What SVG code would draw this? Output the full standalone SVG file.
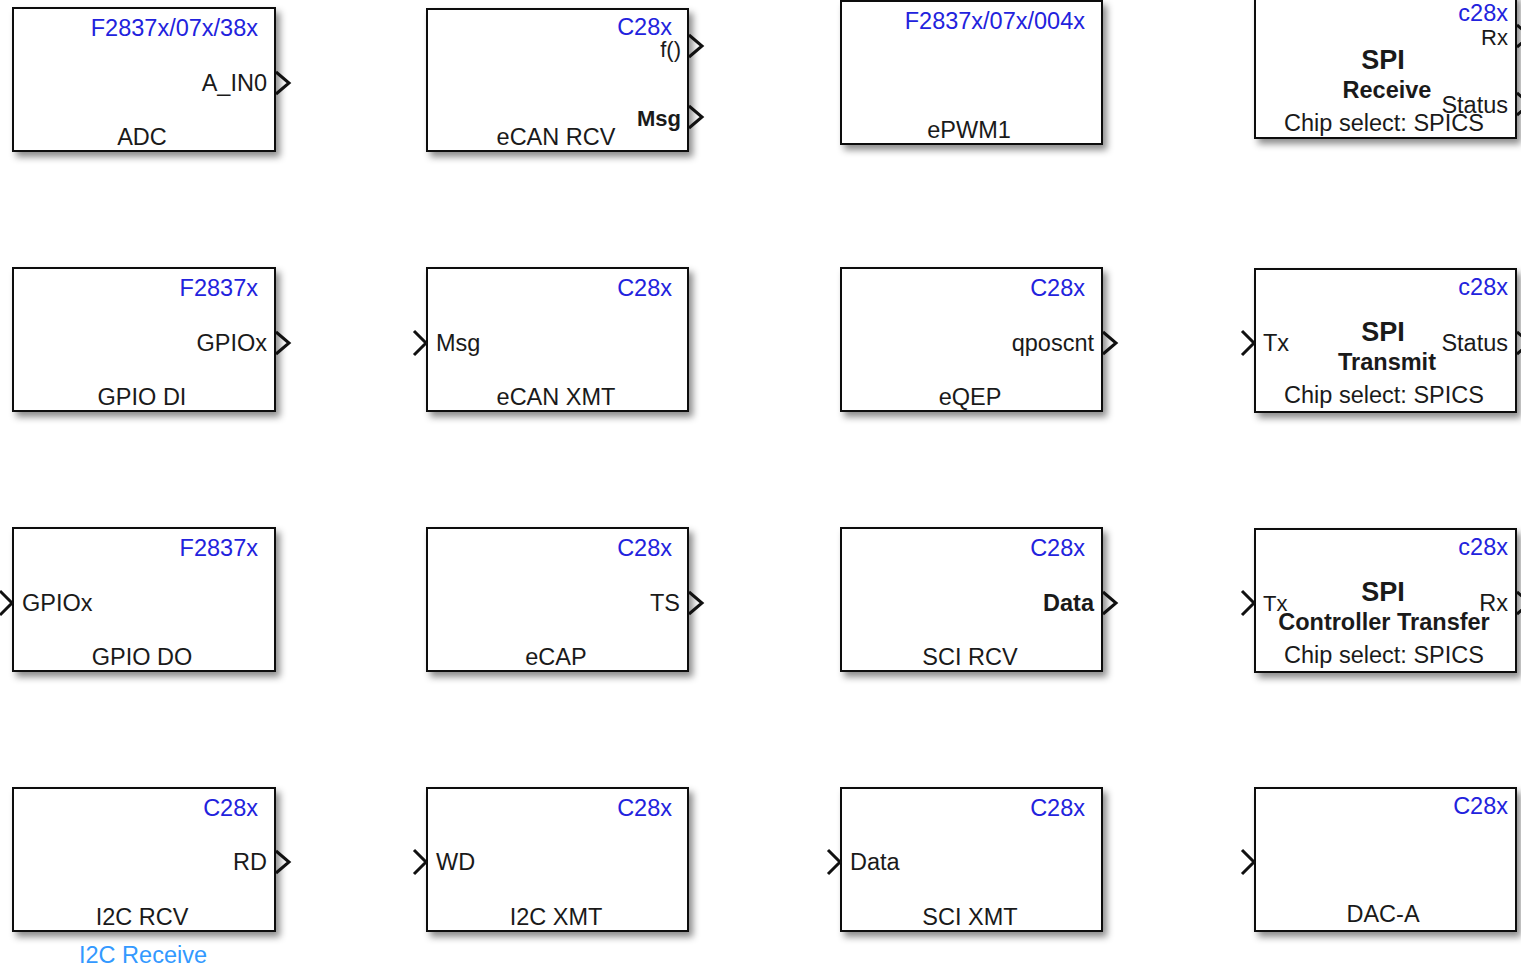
<svg xmlns="http://www.w3.org/2000/svg" width="1521" height="965" viewBox="0 0 1521 965">
<style>
text{font-family:"Liberation Sans",Arial,sans-serif;font-size:23.5px;fill:#1a1a1a}
.blk{fill:#fff;stroke:#111;stroke-width:2;filter:url(#sh)}
.tag{fill:#2222dd;text-anchor:end}
.r{text-anchor:end}
.m{text-anchor:middle}
.b{font-weight:bold}
.big{font-weight:bold;font-size:27px}
.port{fill:none;stroke:#111;stroke-width:3;stroke-linejoin:miter}
.note{fill:#3399ff;text-anchor:middle}
</style>
<defs>
<filter id="sh" x="-10%" y="-10%" width="130%" height="140%">
<feDropShadow dx="4" dy="5" stdDeviation="3.5" flood-color="#000" flood-opacity="0.45"/>
</filter>
</defs>
<rect width="1521" height="965" fill="#fff"/>

<!-- Row 1 -->
<g id="adc">
<rect class="blk" x="13" y="8" width="262" height="143"/>
<text class="tag" x="258" y="36">F2837x/07x/38x</text>
<text class="r" x="267" y="91">A_IN0</text>
<text class="m" x="142" y="145">ADC</text>
<polyline class="port" points="276,72 289,83 276,94"/>
</g>
<g id="ecan_rcv">
<rect class="blk" x="427" y="9" width="261" height="142"/>
<text class="tag" x="672" y="35">C28x</text>
<text class="r" x="681" y="57" style="font-size:22px">f()</text>
<text class="r b" x="681" y="126" style="font-size:22px">Msg</text>
<text class="m" x="556" y="145">eCAN RCV</text>
<polyline class="port" points="689,35 702,46 689,57"/>
<polyline class="port" points="689,106 702,117 689,128"/>
</g>
<g id="epwm1">
<rect class="blk" x="841" y="1" width="261" height="143"/>
<text class="tag" x="1085" y="29">F2837x/07x/004x</text>
<text class="m" x="969" y="138">ePWM1</text>
</g>
<g id="spi_receive">
<rect class="blk" x="1255" y="-5" width="261" height="143"/>
<text class="tag" x="1508" y="21">c28x</text>
<text class="r" x="1508" y="45" style="font-size:22px">Rx</text>
<text class="m big" x="1383" y="69">SPI</text>
<text class="m b" x="1387" y="98">Receive</text>
<text class="r" x="1508" y="113">Status</text>
<text class="m" x="1384" y="131">Chip select: SPICS</text>
<polyline class="port" points="1517,25 1530,36 1517,47"/>
<polyline class="port" points="1517,93 1530,104 1517,115"/>
</g>

<!-- Row 2 -->
<g id="gpio_di">
<rect class="blk" x="13" y="268" width="262" height="143"/>
<text class="tag" x="258" y="296">F2837x</text>
<text class="r" x="267" y="351">GPIOx</text>
<text class="m" x="142" y="405">GPIO DI</text>
<polyline class="port" points="276,332 289,343 276,354"/>
</g>
<g id="ecan_xmt">
<rect class="blk" x="427" y="268" width="261" height="143"/>
<text class="tag" x="672" y="296">C28x</text>
<text x="436" y="351">Msg</text>
<text class="m" x="556" y="405">eCAN XMT</text>
<polyline class="port" points="414,331 426,343 414,355"/>
</g>
<g id="eqep">
<rect class="blk" x="841" y="268" width="261" height="143"/>
<text class="tag" x="1085" y="296">C28x</text>
<text class="r" x="1094" y="351">qposcnt</text>
<text class="m" x="970" y="405">eQEP</text>
<polyline class="port" points="1103,332 1116,343 1103,354"/>
</g>
<g id="spi_transmit">
<rect class="blk" x="1255" y="269" width="261" height="143"/>
<text class="tag" x="1508" y="295">c28x</text>
<text x="1263" y="351">Tx</text>
<text class="m big" x="1383" y="341">SPI</text>
<text class="m b" x="1387" y="370">Transmit</text>
<text class="r" x="1508" y="351">Status</text>
<text class="m" x="1384" y="403">Chip select: SPICS</text>
<polyline class="port" points="1242,331 1254,343 1242,355"/>
<polyline class="port" points="1517,332 1530,343 1517,354"/>
</g>

<!-- Row 3 -->
<g id="gpio_do">
<rect class="blk" x="13" y="528" width="262" height="143"/>
<text class="tag" x="258" y="556">F2837x</text>
<text x="22" y="611">GPIOx</text>
<text class="m" x="142" y="665">GPIO DO</text>
<polyline class="port" points="0,591 12,603 0,615"/>
</g>
<g id="ecap">
<rect class="blk" x="427" y="528" width="261" height="143"/>
<text class="tag" x="672" y="556">C28x</text>
<text class="r" x="680" y="611">TS</text>
<text class="m" x="556" y="665">eCAP</text>
<polyline class="port" points="689,592 702,603 689,614"/>
</g>
<g id="sci_rcv">
<rect class="blk" x="841" y="528" width="261" height="143"/>
<text class="tag" x="1085" y="556">C28x</text>
<text class="r b" x="1094" y="611">Data</text>
<text class="m" x="970" y="665">SCI RCV</text>
<polyline class="port" points="1103,592 1116,603 1103,614"/>
</g>
<g id="spi_controller_transfer">
<rect class="blk" x="1255" y="529" width="261" height="143"/>
<text class="tag" x="1508" y="555">c28x</text>
<text x="1263" y="611" style="font-size:22px">Tx</text>
<text class="m big" x="1383" y="601">SPI</text>
<text class="m b" x="1384" y="630">Controller Transfer</text>
<text class="r" x="1508" y="611">Rx</text>
<text class="m" x="1384" y="663">Chip select: SPICS</text>
<polyline class="port" points="1242,591 1254,603 1242,615"/>
<polyline class="port" points="1517,592 1530,603 1517,614"/>
</g>

<!-- Row 4 -->
<g id="i2c_rcv">
<rect class="blk" x="13" y="788" width="262" height="143"/>
<text class="tag" x="258" y="816">C28x</text>
<text class="r" x="267" y="870">RD</text>
<text class="m" x="142" y="925">I2C RCV</text>
<polyline class="port" points="276,851 289,862 276,873"/>
<text class="note" x="143" y="963">I2C Receive</text>
</g>
<g id="i2c_xmt">
<rect class="blk" x="427" y="788" width="261" height="143"/>
<text class="tag" x="672" y="816">C28x</text>
<text x="436" y="870">WD</text>
<text class="m" x="556" y="925">I2C XMT</text>
<polyline class="port" points="414,850 426,862 414,874"/>
</g>
<g id="sci_xmt">
<rect class="blk" x="841" y="788" width="261" height="143"/>
<text class="tag" x="1085" y="816">C28x</text>
<text x="850" y="870">Data</text>
<text class="m" x="970" y="925">SCI XMT</text>
<polyline class="port" points="828,850 840,862 828,874"/>
</g>
<g id="dac_a">
<rect class="blk" x="1255" y="788" width="261" height="143"/>
<text class="tag" x="1508" y="814">C28x</text>
<text class="m" x="1383" y="922">DAC-A</text>
<polyline class="port" points="1242,850 1254,862 1242,874"/>
</g>

<g id="connectors"></g>
</svg>
